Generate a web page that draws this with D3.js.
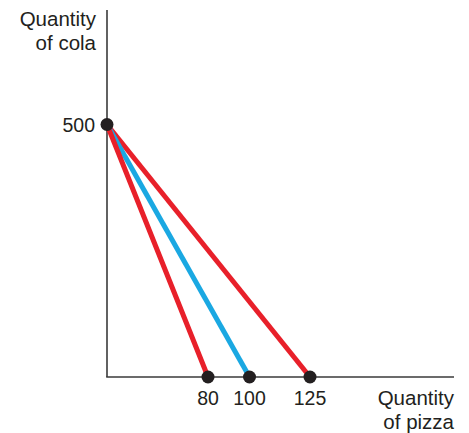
<!DOCTYPE html>
<html>
<head>
<meta charset="utf-8">
<script src="https://cdn.jsdelivr.net/npm/d3@7"></script>
<style>
  html, body { margin: 0; padding: 0; background: #fff; }
  svg { display: block; }
  text { font-family: "Liberation Sans", Arial, Helvetica, sans-serif; fill: #231f20; }
</style>
</head>
<body>
<script>
// Data
const colaIntercept = 500;
const pizzaIntercepts = [80, 100, 125];
const lineColors = ["#e8202a", "#1aa8e2", "#e8202a"];
const xTickLabels = ["80", "100", "125"];
const yTickLabels = ["500"];
const yTitle = ["Quantity", "of cola"];
const xTitle = ["Quantity", "of pizza"];

const W = 469, H = 433;
const originX = 107, originY = 377;
const topY = 10, rightX = 454;

const svg = d3.select("body").append("svg").attr("width", W).attr("height", H);

// Schematic (non-uniform) horizontal scale as in the reference drawing
const x = d3.scaleLinear().domain([0, 80, 100, 125]).range([originX, 208, 249.5, 310]);
const y = d3.scaleLinear().domain([0, 500]).range([originY, 124.5]);

// Axes
svg.append("line").attr("x1", originX).attr("x2", originX).attr("y1", topY).attr("y2", originY)
  .attr("stroke", "#3a3a3a").attr("stroke-width", 1.6);
svg.append("line").attr("x1", originX - 0.8).attr("x2", rightX).attr("y1", originY).attr("y2", originY)
  .attr("stroke", "#3a3a3a").attr("stroke-width", 1.6);

// Budget lines: draw outer reds then blue in middle
const order = [2, 1, 0];
order.forEach(i => {
  svg.append("line")
    .attr("x1", x(0)).attr("y1", y(colaIntercept))
    .attr("x2", x(pizzaIntercepts[i])).attr("y2", y(0))
    .attr("stroke", lineColors[i]).attr("stroke-width", 5).attr("stroke-linecap", "butt");
});

// Dots
svg.append("circle").attr("cx", x(0)).attr("cy", y(colaIntercept)).attr("r", 6.5).attr("fill", "#231f20");
pizzaIntercepts.forEach(v => {
  svg.append("circle").attr("cx", x(v)).attr("cy", y(0)).attr("r", 6.5).attr("fill", "#231f20");
});

// Tick labels
pizzaIntercepts.forEach((v, i) => {
  svg.append("text").attr("x", x(v)).attr("y", 405).attr("text-anchor", "middle")
    .attr("font-size", 19.5).text(xTickLabels[i]);
});
svg.append("text").attr("x", 95).attr("y", y(colaIntercept) + 7).attr("text-anchor", "end")
  .attr("font-size", 19.5).text(yTickLabels[0]);

// Axis titles
yTitle.forEach((t, i) => {
  svg.append("text").attr("x", 96).attr("y", 26 + i * 24).attr("text-anchor", "end")
    .attr("font-size", 20.5).text(t);
});
xTitle.forEach((t, i) => {
  svg.append("text").attr("x", 454).attr("y", 405 + i * 24).attr("text-anchor", "end")
    .attr("font-size", 20.5).text(t);
});
</script>
</body>
</html>
